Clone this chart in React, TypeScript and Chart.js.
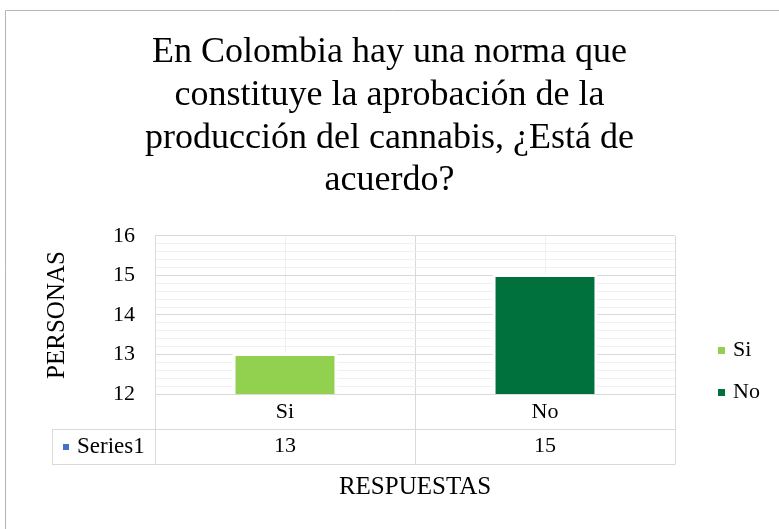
import React, { useEffect, useRef } from "react";
import { Chart, registerables } from "chart.js";

Chart.register(...registerables);

const TITLE_LINES = [
  "En Colombia hay una norma que",
  "constituye la aprobación de la",
  "producción del cannabis, ¿Está de",
  "acuerdo?",
];
const CATEGORIES = ["Si", "No"];
const VALUES = [13, 15];
const BAR_COLORS = ["#92D050", "#00703C"];
const SERIES_NAME = "Series1";
const SERIES_KEY_COLOR = "#4472C4";
const Y_MIN = 12;
const Y_MAX = 16;
const Y_MINOR_STEP = 0.2;
const Y_TITLE = "PERSONAS";
const X_TITLE = "RESPUESTAS";

const FONT = "'Liberation Serif'";
const MAJOR = "#D9D9D9";
const MINOR = "#F0F0F0";

const isMajor = (v: number) => Math.abs(v - Math.round(v)) < 1e-6;

const extrasPlugin = {
  id: "extras",
  afterDraw(chart: any) {
    const ctx = chart.ctx as CanvasRenderingContext2D;
    const x = chart.scales.x;
    const area = chart.chartArea;
    const row1 = area.bottom + 35;
    const row2 = area.bottom + 70;
    const tableLeft = 52;
    const mid = (x.getPixelForValue(0) + x.getPixelForValue(1)) / 2;
    ctx.save();
    ctx.strokeStyle = "#B4B4B4";
    ctx.lineWidth = 1;
    ctx.beginPath();
    ctx.moveTo(5.5, chart.height);
    ctx.lineTo(5.5, 10.5);
    ctx.lineTo(chart.width, 10.5);
    ctx.stroke();

    ctx.strokeStyle = MAJOR;
    ctx.beginPath();
    const al = (v: number) => Math.round(v) + 0.5;
    ctx.moveTo(tableLeft, al(row1));
    ctx.lineTo(x.right, al(row1));
    ctx.moveTo(tableLeft, al(row2));
    ctx.lineTo(x.right, al(row2));
    ctx.moveTo(al(tableLeft), al(row1));
    ctx.lineTo(al(tableLeft), al(row2));
    [x.left, mid, x.right].forEach((px) => {
      ctx.moveTo(al(px), area.bottom);
      ctx.lineTo(al(px), al(row2));
    });
    ctx.stroke();

    const cy = (row1 + row2) / 2;
    ctx.fillStyle = SERIES_KEY_COLOR;
    ctx.fillRect(63, Math.round(cy) - 3, 6, 6);
    ctx.fillStyle = "#000";
    ctx.font = `23px ${FONT}`;
    ctx.textBaseline = "middle";
    ctx.textAlign = "left";
    ctx.fillText(SERIES_NAME, 77, cy);
    ctx.font = `22px ${FONT}`;
    ctx.textAlign = "center";
    const data = chart.data.datasets[0].data as number[];
    data.forEach((v, i) => {
      ctx.fillText(String(v), x.getPixelForValue(i), cy);
    });

    const legendY = [350, 392];
    ctx.textAlign = "left";
    ctx.font = `22px ${FONT}`;
    (chart.data.labels as string[]).forEach((lab, i) => {
      const colors = chart.data.datasets[0].backgroundColor as string[];
      ctx.fillStyle = colors[i];
      ctx.fillRect(718, legendY[i] - 3, 7, 7);
      ctx.fillStyle = "#000";
      ctx.fillText(lab, 733, legendY[i]);
    });
    ctx.restore();
  },
};

export default function App() {
  const ref = useRef<HTMLCanvasElement | null>(null);
  useEffect(() => {
    let chart: any = null;
    let cancelled = false;
    const build = () => {
      if (cancelled || !ref.current) return;
      chart = new Chart(ref.current, {
        type: "bar",
        data: {
          labels: CATEGORIES,
          datasets: [
            {
              label: SERIES_NAME,
              data: VALUES,
              backgroundColor: BAR_COLORS,
              borderColor: "#FFFFFF",
              borderWidth: 3,
              borderSkipped: "start",
              inflateAmount: 1.5,
              barPercentage: 0.392,
              categoryPercentage: 1,
            } as any,
          ],
        },
        options: {
          responsive: false,
          animation: false,
          font: { family: FONT },
          layout: { padding: 0 },
          plugins: {
            legend: { display: false },
            tooltip: { enabled: false },
            title: {
              display: true,
              text: TITLE_LINES,
              color: "#000",
              font: { family: FONT, size: 36, weight: "normal", lineHeight: 1.19 },
              padding: { top: 31, bottom: 33.6 },
            },
          },
          scales: {
            x: {
              type: "category",
              position: "bottom",
              offset: true,
              grid: { offset: true, color: MAJOR, drawTicks: false },
              border: { display: true, color: MAJOR },
              ticks: {
                color: "#000",
                font: { family: FONT, size: 22 },
                padding: 5,
                maxRotation: 0,
              },
              title: {
                display: true,
                text: X_TITLE,
                color: "#000",
                font: { family: FONT, size: 25 },
                padding: { top: 0, bottom: 27 },
              },
              afterFit: (s: any) => {
                s.height = 135;
              },
            },
            x2: {
              type: "category",
              position: "top",
              offset: true,
              grid: { offset: false, color: MINOR, drawTicks: false },
              border: { display: false },
              ticks: { display: false },
              afterFit: (s: any) => {
                s.height = 0;
              },
            },
            y: {
              type: "linear",
              min: Y_MIN,
              max: Y_MAX,
              grid: {
                drawTicks: false,
                color: (c: any) => (c.tick && isMajor(c.tick.value) ? MAJOR : MINOR),
              },
              border: { display: true, color: MAJOR },
              ticks: {
                stepSize: Y_MINOR_STEP,
                autoSkip: false,
                color: "#000",
                padding: 20,
                font: { family: FONT, size: 22 },
                callback: (v: any) => (isMajor(Number(v)) ? String(Math.round(Number(v))) : ""),
              },
              title: {
                display: true,
                text: Y_TITLE,
                color: "#000",
                font: { family: FONT, size: 25 },
                padding: { top: 42, bottom: 0 },
              },
              afterFit: (s: any) => {
                s.width = 155;
              },
            },
            yRight: {
              type: "linear",
              position: "right",
              display: true,
              min: Y_MIN,
              max: Y_MAX,
              grid: { display: false, drawTicks: false },
              border: { display: false },
              ticks: { display: false },
              afterFit: (s: any) => {
                s.width = 104;
              },
            },
          },
        } as any,
        plugins: [extrasPlugin],
      });
    };
    const fonts: any = (document as any).fonts;
    if (fonts && fonts.load) {
      Promise.all([fonts.load(`22px ${FONT}`), fonts.load(`36px ${FONT}`)])
        .catch(() => null)
        .then(build);
    } else {
      build();
    }
    return () => {
      cancelled = true;
      if (chart) chart.destroy();
    };
  }, []);
  return (
    <div style={{ position: "absolute", left: 0, top: 0, width: 779, height: 529, background: "#fff" }}>
      <canvas ref={ref} width={779} height={529} style={{ display: "block" }} />
    </div>
  );
}
